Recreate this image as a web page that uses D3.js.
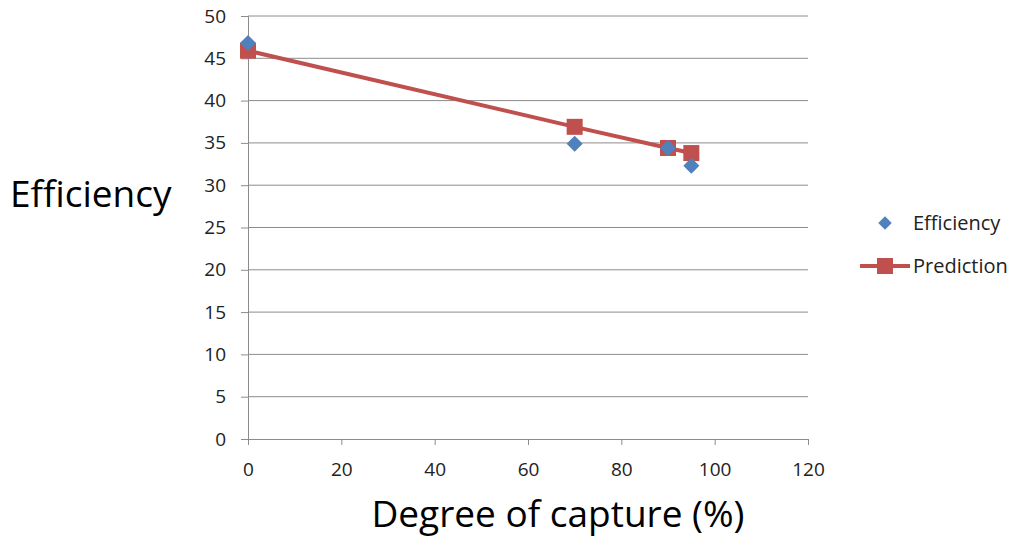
<!DOCTYPE html>
<html>
<head>
<meta charset="utf-8">
<script src="https://cdn.jsdelivr.net/npm/d3@7"></script>
<style>
  body { margin: 0; background: #fff; }
  svg text { font-family: "Open Sans", "DejaVu Sans", sans-serif; }
</style>
</head>
<body>
<svg id="chart"></svg>
<script>
// data
const capture = [0, 70, 90, 95];
const efficiency = [46.8, 34.9, 34.4, 32.3];
const prediction = [45.9, 36.9, 34.4, 33.8];
const xTicks = [0, 20, 40, 60, 80, 100, 120];
const yTicks = [0, 5, 10, 15, 20, 25, 30, 35, 40, 45, 50];

const width = 1016;
const height = 538;
const margin = { top: 16, right: 208, bottom: 99, left: 248 };
const innerWidth = width - margin.left - margin.right;
const innerHeight = height - margin.top - margin.bottom;

const svg = d3.select("#chart")
    .attr("width", width)
    .attr("height", height);

const g = svg.append("g")
    .attr("transform", `translate(${margin.left},${margin.top})`);

const x = d3.scaleLinear().domain([0, 120]).range([0, innerWidth]);
const y = d3.scaleLinear().domain([0, 50]).range([innerHeight, 0]);

// horizontal gridlines
g.selectAll(".grid")
    .data(yTicks.slice(1))
    .enter().append("line")
    .attr("x1", 0)
    .attr("x2", innerWidth)
    .attr("y1", d => y(d))
    .attr("y2", d => y(d))
    .attr("stroke", "#8c8c8c")
    .attr("stroke-width", 1);

// axes
const xAxis = g.append("g")
    .attr("transform", `translate(0,${innerHeight})`)
    .call(d3.axisBottom(x).tickValues(xTicks).tickSize(6).tickPadding(18));

const yAxis = g.append("g")
    .call(d3.axisLeft(y).tickValues(yTicks).tickSize(7).tickPadding(15));

[xAxis, yAxis].forEach(a => {
  a.attr("font-size", 19).attr("font-family", "\"Open Sans\", sans-serif");
  a.select(".domain").attr("stroke", "#8c8c8c");
  a.selectAll(".tick line").attr("stroke", "#8c8c8c");
  a.selectAll(".tick text").attr("fill", "#222");
});

// prediction line
const line = d3.line()
    .x((d, i) => x(capture[i]))
    .y(d => y(d));

g.append("path")
    .datum(prediction)
    .attr("fill", "none")
    .attr("stroke", "#C0504D")
    .attr("stroke-width", 4)
    .attr("d", line);

const sq = 16;
g.selectAll(".pred")
    .data(prediction)
    .enter().append("rect")
    .attr("x", (d, i) => x(capture[i]) - sq / 2)
    .attr("y", d => y(d) - sq / 2)
    .attr("width", sq)
    .attr("height", sq)
    .attr("fill", "#C0504D");

// efficiency diamonds
const diamond = d3.symbol().type(d3.symbolDiamond2).size(165);
g.selectAll(".eff")
    .data(efficiency)
    .enter().append("path")
    .attr("d", diamond)
    .attr("transform", (d, i) => `translate(${x(capture[i])},${y(d)})`)
    .attr("fill", "#4F81BD");

// axis titles
svg.append("text")
    .attr("x", 10)
    .attr("y", 207)
    .attr("font-size", 37)
    .attr("fill", "#000")
    .text("Efficiency");

svg.append("text")
    .attr("x", 558)
    .attr("y", 527)
    .attr("text-anchor", "middle")
    .attr("font-size", 37)
    .attr("fill", "#000")
    .text("Degree of capture (%)");

// legend
const legend = svg.append("g");
legend.append("path")
    .attr("d", d3.symbol().type(d3.symbolDiamond2).size(115))
    .attr("transform", "translate(885,223)")
    .attr("fill", "#4F81BD");
legend.append("text")
    .attr("x", 913)
    .attr("y", 230)
    .attr("font-size", 20)
    .attr("fill", "#222")
    .text("Efficiency");

legend.append("line")
    .attr("x1", 860).attr("x2", 910)
    .attr("y1", 266).attr("y2", 266)
    .attr("stroke", "#C0504D")
    .attr("stroke-width", 4);
legend.append("rect")
    .attr("x", 877).attr("y", 258)
    .attr("width", 16).attr("height", 16)
    .attr("fill", "#C0504D");
legend.append("text")
    .attr("x", 913)
    .attr("y", 273)
    .attr("font-size", 20)
    .attr("fill", "#222")
    .text("Prediction");
</script>
</body>
</html>
